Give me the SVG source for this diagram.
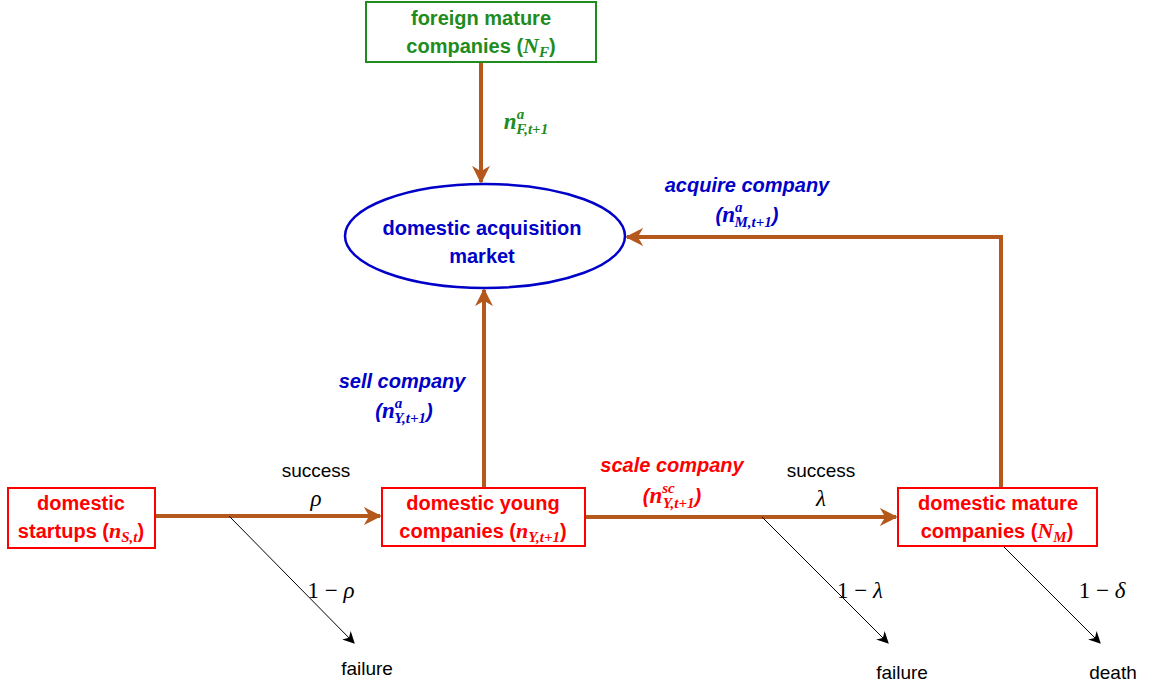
<svg xmlns="http://www.w3.org/2000/svg" width="1151" height="685" viewBox="0 0 1151 685">
<defs>
<style>
.box{fill:#fff;stroke-width:2}
.lbl{font-family:"Liberation Sans",Arial,sans-serif;font-weight:bold;font-size:20px;text-anchor:middle}
.m{font-family:"Liberation Serif","DejaVu Serif",serif;font-style:italic;font-weight:bold}
.plain{font-family:"Liberation Sans",Arial,sans-serif;font-size:19px;text-anchor:middle;fill:#000}
.math{font-family:"Liberation Serif","DejaVu Serif",serif;font-size:23px;text-anchor:middle;fill:#000}
.flow{stroke:#b5581c;stroke-width:4;fill:none}
.thin{stroke:#000;stroke-width:1;fill:none}
.red{fill:#ff0000}.green{fill:#1e8c1e}.blue{fill:#0000c8}
</style>
<marker id="ah" viewBox="0 0 10 10" refX="9" refY="5" markerWidth="4.5" markerHeight="4.5" orient="auto" markerUnits="strokeWidth">
<path d="M0,0 L10,5 L0,10 L3,5 z" fill="#b5581c"/>
</marker>
<marker id="ahk" viewBox="0 0 10 10" refX="9" refY="5" markerWidth="12" markerHeight="12" orient="auto" markerUnits="userSpaceOnUse">
<path d="M0,0 L10,5 L0,10 L3,5 z" fill="#000"/>
</marker>
</defs>
<rect width="1151" height="685" fill="#fff"/>

<g id="connectors">
<line class="flow" x1="481" y1="62" x2="481" y2="182" marker-end="url(#ah)"/>
<line class="flow" x1="484" y1="487" x2="484" y2="290" marker-end="url(#ah)"/>
<polyline class="flow" points="1001,487 1001,237 627,237" marker-end="url(#ah)"/>
<line class="flow" x1="156" y1="516" x2="380" y2="516" marker-end="url(#ah)"/>
<line class="flow" x1="586" y1="517" x2="896" y2="517" marker-end="url(#ah)"/>
<line class="thin" x1="229" y1="516" x2="354" y2="643" marker-end="url(#ahk)"/>
<line class="thin" x1="762" y1="517" x2="888" y2="643" marker-end="url(#ahk)"/>
<line class="thin" x1="1004" y1="547" x2="1100" y2="643" marker-end="url(#ahk)"/>
<text class="lbl green" x="526" y="129"><tspan class="m" font-size="23">n</tspan><tspan class="m" font-size="15" dy="-10">a</tspan><tspan class="m" font-size="15" dx="-8" dy="15">F,t+1</tspan></text>
<text class="lbl blue" font-style="italic" x="747" y="192">acquire company</text>
<text class="lbl blue" x="747" y="222"><tspan font-style="italic">(</tspan><tspan class="m" font-size="23">n</tspan><tspan class="m" font-size="15" dy="-10">a</tspan><tspan class="m" font-size="15" dx="-8" dy="15">M,t+1</tspan><tspan font-style="italic" dy="-5">)</tspan></text>
<text class="lbl blue" font-style="italic" x="402" y="388">sell company</text>
<text class="lbl blue" x="404" y="418"><tspan font-style="italic">(</tspan><tspan class="m" font-size="23">n</tspan><tspan class="m" font-size="15" dy="-10">a</tspan><tspan class="m" font-size="15" dx="-8" dy="15">Y,t+1</tspan><tspan font-style="italic" dy="-5">)</tspan></text>
<text class="lbl red" font-style="italic" x="672" y="472">scale company</text>
<text class="lbl red" x="672" y="503"><tspan font-style="italic">(</tspan><tspan class="m" font-size="23">n</tspan><tspan class="m" font-size="15" dy="-10">sc</tspan><tspan class="m" font-size="15" dx="-12" dy="15">Y,t+1</tspan><tspan font-style="italic" dy="-5">)</tspan></text>
<text class="plain" x="316" y="477">success</text>
<text class="math" font-style="italic" x="316" y="506">ρ</text>
<text class="plain" x="821" y="477">success</text>
<text class="math" font-style="italic" x="821" y="506">λ</text>
<text class="math" x="331" y="598">1 − <tspan font-style="italic">ρ</tspan></text>
<text class="math" x="860" y="598">1 − <tspan font-style="italic">λ</tspan></text>
<text class="math" x="1102" y="598">1 − <tspan font-style="italic">δ</tspan></text>
<text class="plain" x="367" y="675">failure</text>
<text class="plain" x="902" y="679">failure</text>
<text class="plain" x="1113" y="679">death</text>
</g>

<g id="foreign">
<rect class="box" x="366" y="2" width="230" height="60" stroke="#1e8c1e"/>
<text class="lbl green" x="481" y="25">foreign mature</text>
<text class="lbl green" x="481" y="53">companies (<tspan class="m" font-size="22">N</tspan><tspan class="m" font-size="15" dy="4">F</tspan><tspan dy="-4">)</tspan></text>
</g>

<g id="market">
<ellipse cx="485" cy="236" rx="140" ry="52" fill="#fff" stroke="#0000c8" stroke-width="2.5"/>
<text class="lbl blue" x="482" y="235">domestic acquisition</text>
<text class="lbl blue" x="482" y="263">market</text>
</g>

<g id="startups">
<rect class="box" x="8" y="488" width="147" height="60" stroke="#ff0000"/>
<text class="lbl red" x="81" y="510">domestic</text>
<text class="lbl red" x="81" y="538">startups (<tspan class="m" font-size="22">n</tspan><tspan class="m" font-size="15" dy="4">S,t</tspan><tspan dy="-4">)</tspan></text>
</g>

<g id="young">
<rect class="box" x="382" y="488" width="203" height="58" stroke="#ff0000"/>
<text class="lbl red" x="483" y="510">domestic young</text>
<text class="lbl red" x="483" y="538">companies (<tspan class="m" font-size="22">n</tspan><tspan class="m" font-size="15" dy="4">Y,t+1</tspan><tspan dy="-4">)</tspan></text>
</g>

<g id="mature">
<rect class="box" x="898" y="488" width="199" height="58" stroke="#ff0000"/>
<text class="lbl red" x="998" y="510">domestic mature</text>
<text class="lbl red" x="997" y="538">companies (<tspan class="m" font-size="22">N</tspan><tspan class="m" font-size="15" dy="4">M</tspan><tspan dy="-4">)</tspan></text>
</g>
</svg>
